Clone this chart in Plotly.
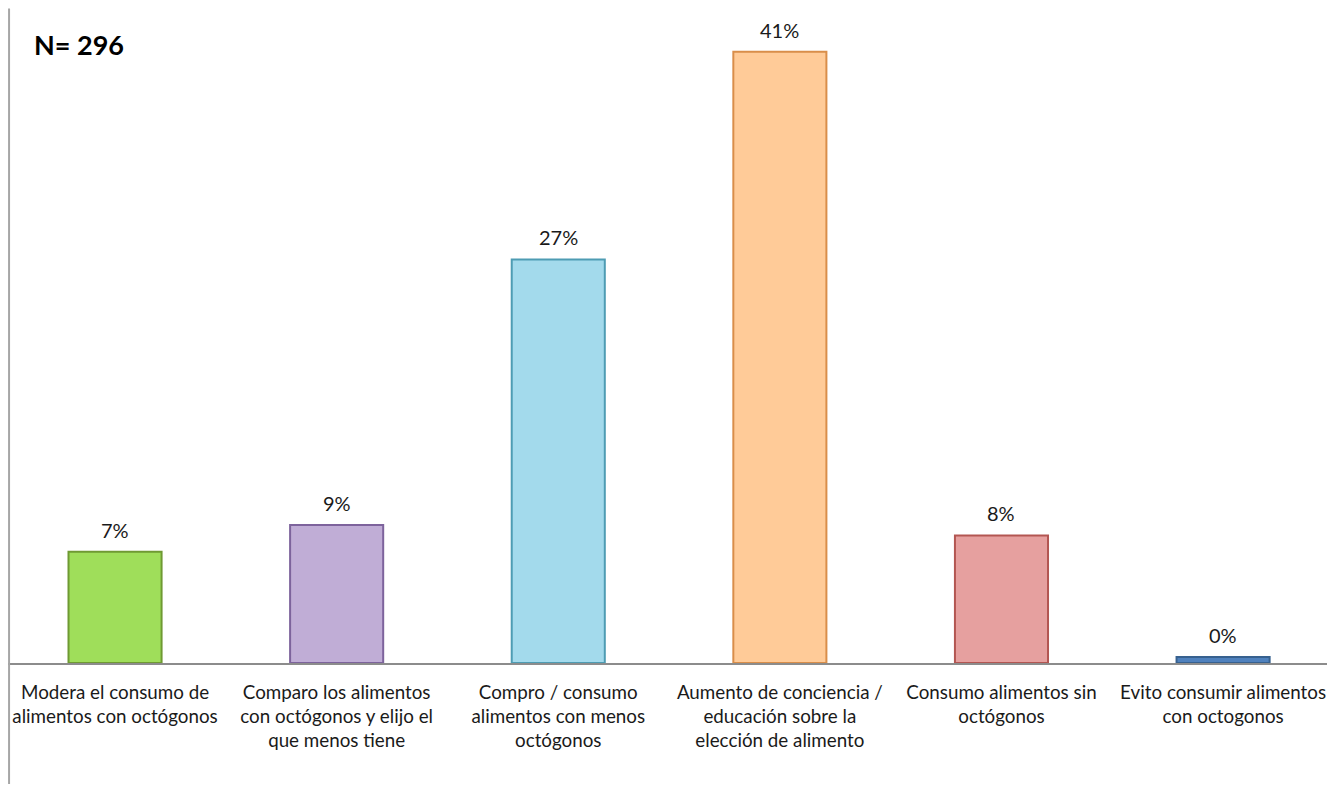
import plotly.graph_objects as go

categories = [
    "Modera el consumo de<br>alimentos con octógonos",
    "Comparo los alimentos<br>con octógonos y elijo el<br>que menos tiene",
    "Compro / consumo<br>alimentos con menos<br>octógonos",
    "Aumento de conciencia /<br>educación sobre la<br>elección de alimento",
    "Consumo alimentos sin<br>octógonos",
    "Evito consumir alimentos<br>con octogonos",
]
values = [7.5, 9.3, 27.2, 41.2, 8.6, 0.4]
labels = ["7%", "9%", "27%", "41%", "8%", "0%"]
fill_colors = ["#9FDE5A", "#C0ADD6", "#A3DAEC", "#FFCB98", "#E6A09F", "#4F81BD"]
edge_colors = ["#6F9A33", "#7D639C", "#4E9CB3", "#D98E4A", "#B35652", "#37618F"]

fig = go.Figure(
    go.Bar(
        x=categories,
        y=values,
        marker=dict(color=fill_colors, line=dict(color=edge_colors, width=2)),
        width=0.42,
        hoverinfo="skip",
    )
)

annotations = [
    dict(
        x=c,
        y=v,
        xref="x",
        yref="y",
        text=t,
        showarrow=False,
        yanchor="bottom",
        yshift=8,
        font=dict(family="Lato", size=20, color="#1a1a1a"),
    )
    for c, v, t in zip(categories, values, labels)
]
annotations.append(
    dict(
        text="<b>N= 296</b>",
        xref="paper",
        yref="paper",
        x=0.018,
        y=0.970,
        xanchor="left",
        yanchor="middle",
        showarrow=False,
        font=dict(family="Lato", size=27, color="#000000"),
    )
)

fig.update_layout(
    width=1327,
    height=776,
    margin=dict(l=0, r=0, t=17, b=121),
    paper_bgcolor="white",
    plot_bgcolor="white",
    showlegend=False,
    font=dict(family="Lato", size=20, color="#1a1a1a"),
    xaxis=dict(
        range=[-0.483, 5.505],
        tickangle=0,
        showline=True,
        linecolor="#8C8C8C",
        linewidth=2,
        ticks="outside",
        ticklen=11,
        tickcolor="rgba(0,0,0,0)",
        tickfont=dict(family="Lato", size=18.8, color="#1a1a1a"),
        showgrid=False,
    ),
    yaxis=dict(
        range=[0, 43],
        visible=False,
        showgrid=False,
        zeroline=False,
    ),
    annotations=annotations,
    shapes=[
        dict(
            type="line",
            xref="paper",
            yref="paper",
            x0=0.0008,
            x1=0.0008,
            y0=-0.19,
            y1=1.026,
            line=dict(color="#A6A6A6", width=2),
        )
    ],
)

fig.write_html("out.html")
